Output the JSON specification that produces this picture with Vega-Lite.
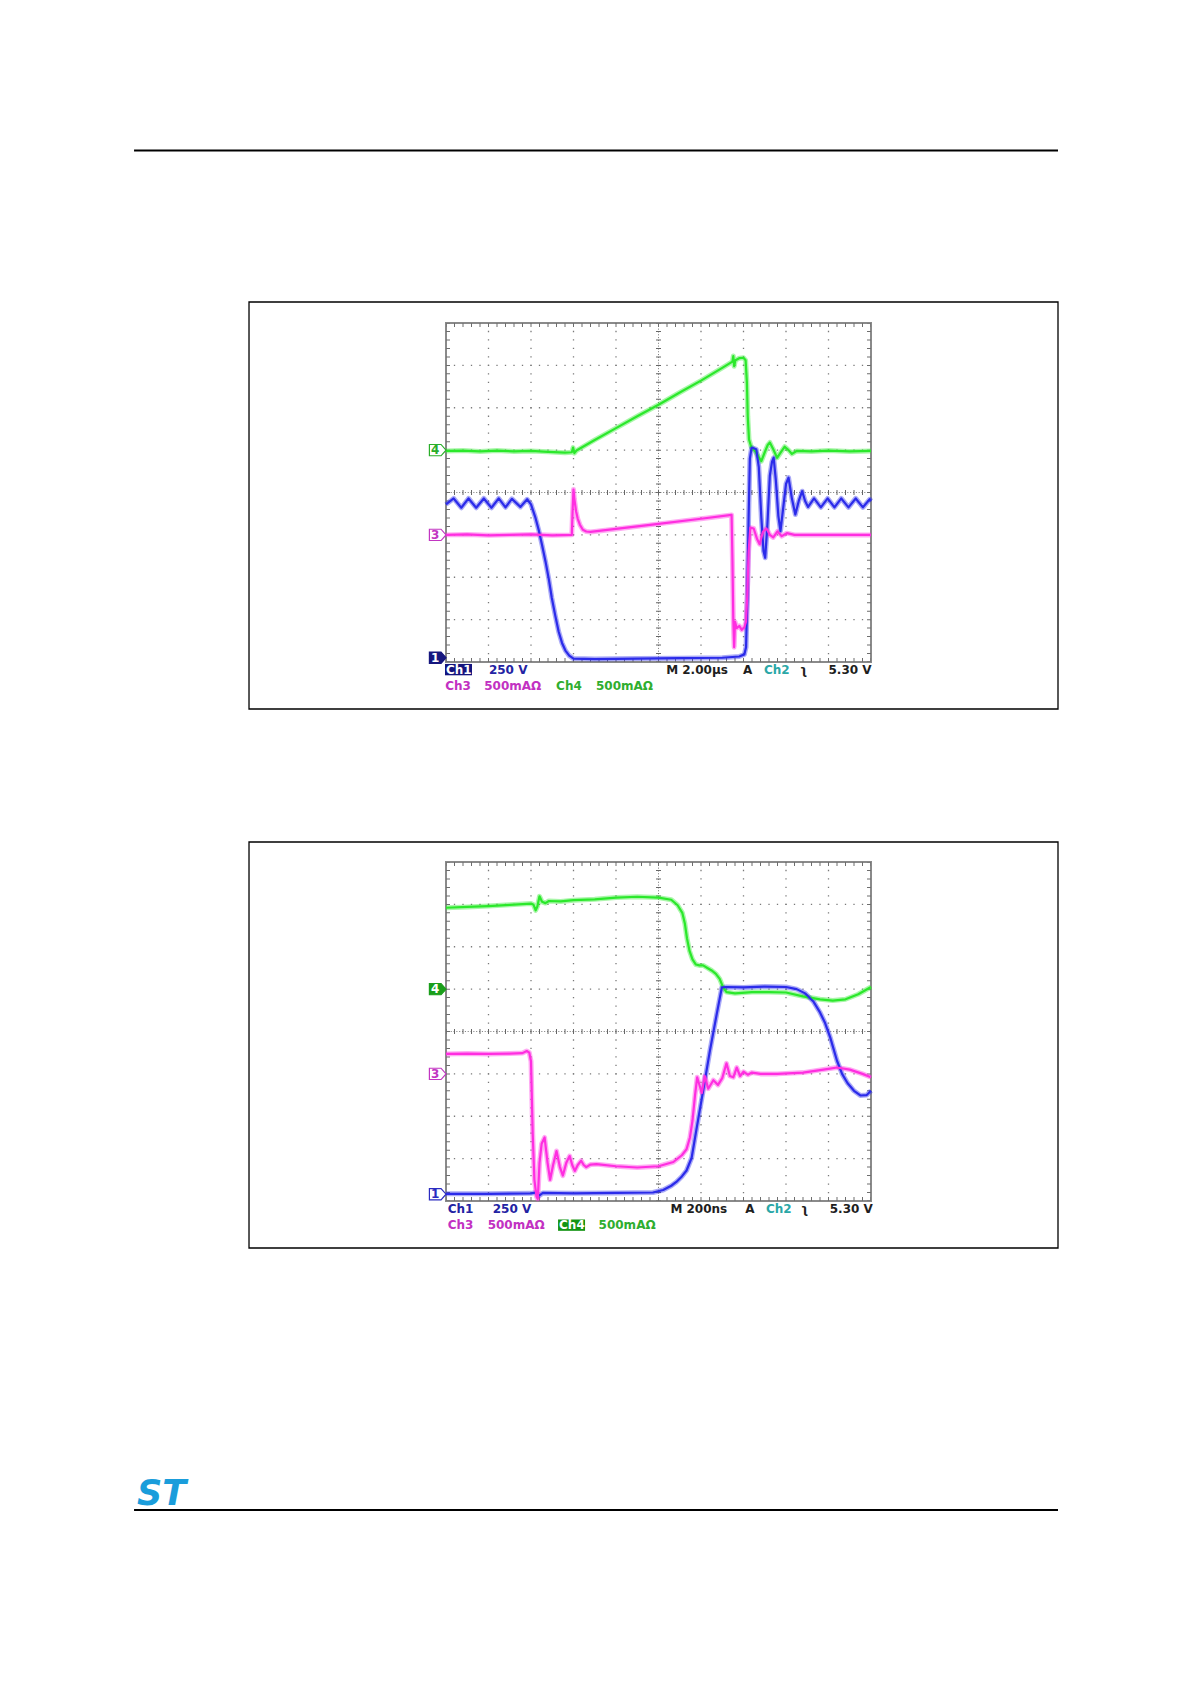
{
  "$schema": "https://vega.github.io/schema/vega-lite/v6.json",
  "padding": {"left": 132, "top": 148, "right": 0, "bottom": 0},
  "autosize": {"type": "pad"},
  "bounds": "flush",
  "spacing": 200,
  "background": "white",
  "config": {"font": "DejaVu Sans", "view": {"stroke": "#8a8a8a", "strokeWidth": 2}},
  "datasets": {
    "gx": [{"g":1},{"g":2},{"g":3},{"g":4},{"g":6},{"g":7},{"g":8},{"g":9}],
    "gy": [{"g":1},{"g":2},{"g":3},{"g":5},{"g":6},{"g":7}],
    "s1": [
      {"ch":"Ch4","t":0,"v":4.98},{"ch":"Ch4","t":0.4,"v":4.99},{"ch":"Ch4","t":0.8,"v":4.97},{"ch":"Ch4","t":1.2,"v":4.99},{"ch":"Ch4","t":1.6,"v":4.97},{"ch":"Ch4","t":2.0,"v":4.98},{"ch":"Ch4","t":2.4,"v":4.96},{"ch":"Ch4","t":2.8,"v":4.94},{"ch":"Ch4","t":2.96,"v":4.95},{"ch":"Ch4","t":2.99,"v":5.06},{"ch":"Ch4","t":3.02,"v":4.93},{"ch":"Ch4","t":3.07,"v":4.99},{"ch":"Ch4","t":3.5,"v":5.24},{"ch":"Ch4","t":4.0,"v":5.52},{"ch":"Ch4","t":4.5,"v":5.8},{"ch":"Ch4","t":5.0,"v":6.07},{"ch":"Ch4","t":5.5,"v":6.36},{"ch":"Ch4","t":6.0,"v":6.64},{"ch":"Ch4","t":6.5,"v":6.94},{"ch":"Ch4","t":6.74,"v":7.09},{"ch":"Ch4","t":6.76,"v":7.22},{"ch":"Ch4","t":6.78,"v":6.98},{"ch":"Ch4","t":6.81,"v":7.12},{"ch":"Ch4","t":6.9,"v":7.17},{"ch":"Ch4","t":7.0,"v":7.18},{"ch":"Ch4","t":7.05,"v":7.12},{"ch":"Ch4","t":7.08,"v":6.6},{"ch":"Ch4","t":7.1,"v":5.8},{"ch":"Ch4","t":7.13,"v":5.25},{"ch":"Ch4","t":7.18,"v":5.08},{"ch":"Ch4","t":7.28,"v":4.97},{"ch":"Ch4","t":7.35,"v":4.85},{"ch":"Ch4","t":7.42,"v":4.74},{"ch":"Ch4","t":7.5,"v":4.95},{"ch":"Ch4","t":7.57,"v":5.12},{"ch":"Ch4","t":7.62,"v":5.18},{"ch":"Ch4","t":7.7,"v":5.02},{"ch":"Ch4","t":7.79,"v":4.82},{"ch":"Ch4","t":7.88,"v":4.95},{"ch":"Ch4","t":7.97,"v":5.08},{"ch":"Ch4","t":8.06,"v":5.0},{"ch":"Ch4","t":8.14,"v":4.91},{"ch":"Ch4","t":8.25,"v":4.98},{"ch":"Ch4","t":8.6,"v":4.97},{"ch":"Ch4","t":9.0,"v":4.99},{"ch":"Ch4","t":9.5,"v":4.97},{"ch":"Ch4","t":10,"v":4.98},
      {"ch":"Ch1","t":0,"v":3.72},{"ch":"Ch1","t":0.18,"v":3.86},{"ch":"Ch1","t":0.36,"v":3.64},{"ch":"Ch1","t":0.53,"v":3.86},{"ch":"Ch1","t":0.71,"v":3.64},{"ch":"Ch1","t":0.89,"v":3.86},{"ch":"Ch1","t":1.07,"v":3.64},{"ch":"Ch1","t":1.24,"v":3.86},{"ch":"Ch1","t":1.4,"v":3.65},{"ch":"Ch1","t":1.55,"v":3.85},{"ch":"Ch1","t":1.75,"v":3.66},{"ch":"Ch1","t":1.91,"v":3.84},{"ch":"Ch1","t":2.0,"v":3.72},{"ch":"Ch1","t":2.1,"v":3.42},{"ch":"Ch1","t":2.18,"v":3.12},{"ch":"Ch1","t":2.26,"v":2.76},{"ch":"Ch1","t":2.34,"v":2.38},{"ch":"Ch1","t":2.42,"v":1.95},{"ch":"Ch1","t":2.49,"v":1.51},{"ch":"Ch1","t":2.57,"v":1.1},{"ch":"Ch1","t":2.65,"v":0.72},{"ch":"Ch1","t":2.73,"v":0.45},{"ch":"Ch1","t":2.81,"v":0.27},{"ch":"Ch1","t":2.9,"v":0.15},{"ch":"Ch1","t":3.0,"v":0.08},{"ch":"Ch1","t":3.5,"v":0.07},{"ch":"Ch1","t":4.5,"v":0.08},{"ch":"Ch1","t":5.5,"v":0.09},{"ch":"Ch1","t":6.5,"v":0.1},{"ch":"Ch1","t":6.9,"v":0.13},{"ch":"Ch1","t":7.02,"v":0.18},{"ch":"Ch1","t":7.06,"v":0.35},{"ch":"Ch1","t":7.09,"v":1.5},{"ch":"Ch1","t":7.12,"v":3.4},{"ch":"Ch1","t":7.15,"v":4.8},{"ch":"Ch1","t":7.19,"v":5.06},{"ch":"Ch1","t":7.3,"v":5.02},{"ch":"Ch1","t":7.36,"v":4.6},{"ch":"Ch1","t":7.42,"v":3.4},{"ch":"Ch1","t":7.47,"v":2.62},{"ch":"Ch1","t":7.51,"v":2.46},{"ch":"Ch1","t":7.56,"v":3.2},{"ch":"Ch1","t":7.62,"v":4.4},{"ch":"Ch1","t":7.67,"v":4.72},{"ch":"Ch1","t":7.71,"v":4.82},{"ch":"Ch1","t":7.76,"v":4.3},{"ch":"Ch1","t":7.82,"v":3.45},{"ch":"Ch1","t":7.87,"v":3.09},{"ch":"Ch1","t":7.93,"v":3.6},{"ch":"Ch1","t":8.0,"v":4.2},{"ch":"Ch1","t":8.06,"v":4.35},{"ch":"Ch1","t":8.14,"v":3.85},{"ch":"Ch1","t":8.22,"v":3.48},{"ch":"Ch1","t":8.3,"v":3.8},{"ch":"Ch1","t":8.38,"v":4.03},{"ch":"Ch1","t":8.45,"v":3.8},{"ch":"Ch1","t":8.52,"v":3.66},{"ch":"Ch1","t":8.66,"v":3.86},{"ch":"Ch1","t":8.82,"v":3.65},{"ch":"Ch1","t":8.98,"v":3.86},{"ch":"Ch1","t":9.14,"v":3.65},{"ch":"Ch1","t":9.3,"v":3.86},{"ch":"Ch1","t":9.47,"v":3.65},{"ch":"Ch1","t":9.64,"v":3.86},{"ch":"Ch1","t":9.81,"v":3.65},{"ch":"Ch1","t":9.97,"v":3.84},{"ch":"Ch1","t":10,"v":3.8},
      {"ch":"Ch3","t":0,"v":3.0},{"ch":"Ch3","t":0.5,"v":3.01},{"ch":"Ch3","t":1,"v":2.99},{"ch":"Ch3","t":1.5,"v":3.0},{"ch":"Ch3","t":2,"v":3.01},{"ch":"Ch3","t":2.5,"v":2.99},{"ch":"Ch3","t":2.96,"v":3.0},{"ch":"Ch3","t":2.98,"v":3.6},{"ch":"Ch3","t":3.0,"v":4.07},{"ch":"Ch3","t":3.02,"v":3.85},{"ch":"Ch3","t":3.06,"v":3.56},{"ch":"Ch3","t":3.1,"v":3.38},{"ch":"Ch3","t":3.15,"v":3.24},{"ch":"Ch3","t":3.22,"v":3.12},{"ch":"Ch3","t":3.3,"v":3.08},{"ch":"Ch3","t":3.4,"v":3.07},{"ch":"Ch3","t":4.0,"v":3.14},{"ch":"Ch3","t":5.0,"v":3.26},{"ch":"Ch3","t":6.0,"v":3.38},{"ch":"Ch3","t":6.72,"v":3.47},{"ch":"Ch3","t":6.74,"v":2.4},{"ch":"Ch3","t":6.76,"v":1.0},{"ch":"Ch3","t":6.78,"v":0.35},{"ch":"Ch3","t":6.8,"v":0.95},{"ch":"Ch3","t":6.84,"v":0.8},{"ch":"Ch3","t":6.9,"v":0.85},{"ch":"Ch3","t":6.96,"v":0.76},{"ch":"Ch3","t":7.02,"v":0.82},{"ch":"Ch3","t":7.06,"v":0.95},{"ch":"Ch3","t":7.09,"v":1.6},{"ch":"Ch3","t":7.12,"v":2.6},{"ch":"Ch3","t":7.16,"v":3.17},{"ch":"Ch3","t":7.24,"v":3.15},{"ch":"Ch3","t":7.32,"v":2.9},{"ch":"Ch3","t":7.38,"v":2.78},{"ch":"Ch3","t":7.46,"v":3.08},{"ch":"Ch3","t":7.54,"v":3.15},{"ch":"Ch3","t":7.62,"v":3.0},{"ch":"Ch3","t":7.7,"v":2.94},{"ch":"Ch3","t":7.8,"v":3.08},{"ch":"Ch3","t":7.9,"v":2.97},{"ch":"Ch3","t":8.02,"v":3.04},{"ch":"Ch3","t":8.2,"v":3.0},{"ch":"Ch3","t":9,"v":3.0},{"ch":"Ch3","t":10,"v":3.0}
    ],
    "s2": [
      {"ch":"Ch4","t":0,"v":6.92},{"ch":"Ch4","t":0.5,"v":6.94},{"ch":"Ch4","t":1.0,"v":6.96},{"ch":"Ch4","t":1.5,"v":6.99},{"ch":"Ch4","t":2.0,"v":7.02},{"ch":"Ch4","t":2.06,"v":6.99},{"ch":"Ch4","t":2.11,"v":6.86},{"ch":"Ch4","t":2.15,"v":6.95},{"ch":"Ch4","t":2.2,"v":7.19},{"ch":"Ch4","t":2.26,"v":7.06},{"ch":"Ch4","t":2.34,"v":7.03},{"ch":"Ch4","t":2.42,"v":7.08},{"ch":"Ch4","t":2.7,"v":7.07},{"ch":"Ch4","t":3.0,"v":7.1},{"ch":"Ch4","t":3.5,"v":7.12},{"ch":"Ch4","t":4.0,"v":7.16},{"ch":"Ch4","t":4.5,"v":7.18},{"ch":"Ch4","t":5.0,"v":7.16},{"ch":"Ch4","t":5.3,"v":7.11},{"ch":"Ch4","t":5.45,"v":6.98},{"ch":"Ch4","t":5.56,"v":6.8},{"ch":"Ch4","t":5.62,"v":6.55},{"ch":"Ch4","t":5.67,"v":6.2},{"ch":"Ch4","t":5.73,"v":5.9},{"ch":"Ch4","t":5.8,"v":5.7},{"ch":"Ch4","t":5.88,"v":5.58},{"ch":"Ch4","t":5.96,"v":5.56},{"ch":"Ch4","t":6.05,"v":5.56},{"ch":"Ch4","t":6.15,"v":5.5},{"ch":"Ch4","t":6.25,"v":5.44},{"ch":"Ch4","t":6.35,"v":5.36},{"ch":"Ch4","t":6.44,"v":5.24},{"ch":"Ch4","t":6.52,"v":5.04},{"ch":"Ch4","t":6.6,"v":4.93},{"ch":"Ch4","t":6.8,"v":4.9},{"ch":"Ch4","t":7.2,"v":4.93},{"ch":"Ch4","t":7.6,"v":4.93},{"ch":"Ch4","t":8.0,"v":4.92},{"ch":"Ch4","t":8.4,"v":4.83},{"ch":"Ch4","t":8.8,"v":4.76},{"ch":"Ch4","t":9.1,"v":4.73},{"ch":"Ch4","t":9.4,"v":4.76},{"ch":"Ch4","t":9.7,"v":4.88},{"ch":"Ch4","t":10,"v":5.05},
      {"ch":"Ch1","t":0,"v":0.17},{"ch":"Ch1","t":1,"v":0.17},{"ch":"Ch1","t":2.0,"v":0.18},{"ch":"Ch1","t":2.12,"v":0.2},{"ch":"Ch1","t":2.2,"v":0.13},{"ch":"Ch1","t":2.28,"v":0.19},{"ch":"Ch1","t":3,"v":0.18},{"ch":"Ch1","t":4,"v":0.19},{"ch":"Ch1","t":4.87,"v":0.2},{"ch":"Ch1","t":5.11,"v":0.26},{"ch":"Ch1","t":5.3,"v":0.36},{"ch":"Ch1","t":5.42,"v":0.45},{"ch":"Ch1","t":5.55,"v":0.58},{"ch":"Ch1","t":5.66,"v":0.72},{"ch":"Ch1","t":5.78,"v":1.02},{"ch":"Ch1","t":5.9,"v":1.73},{"ch":"Ch1","t":6.05,"v":2.6},{"ch":"Ch1","t":6.21,"v":3.55},{"ch":"Ch1","t":6.37,"v":4.41},{"ch":"Ch1","t":6.49,"v":5.04},{"ch":"Ch1","t":6.6,"v":5.05},{"ch":"Ch1","t":7.0,"v":5.04},{"ch":"Ch1","t":7.5,"v":5.06},{"ch":"Ch1","t":8.0,"v":5.05},{"ch":"Ch1","t":8.25,"v":5.0},{"ch":"Ch1","t":8.45,"v":4.9},{"ch":"Ch1","t":8.65,"v":4.7},{"ch":"Ch1","t":8.8,"v":4.45},{"ch":"Ch1","t":8.92,"v":4.2},{"ch":"Ch1","t":9.04,"v":3.86},{"ch":"Ch1","t":9.2,"v":3.31},{"ch":"Ch1","t":9.32,"v":3.0},{"ch":"Ch1","t":9.45,"v":2.78},{"ch":"Ch1","t":9.6,"v":2.6},{"ch":"Ch1","t":9.75,"v":2.49},{"ch":"Ch1","t":9.9,"v":2.5},{"ch":"Ch1","t":10,"v":2.6},
      {"ch":"Ch3","t":0,"v":3.47},{"ch":"Ch3","t":0.5,"v":3.48},{"ch":"Ch3","t":1,"v":3.47},{"ch":"Ch3","t":1.5,"v":3.48},{"ch":"Ch3","t":1.8,"v":3.49},{"ch":"Ch3","t":1.9,"v":3.54},{"ch":"Ch3","t":1.96,"v":3.5},{"ch":"Ch3","t":2.0,"v":3.3},{"ch":"Ch3","t":2.04,"v":1.6},{"ch":"Ch3","t":2.08,"v":0.5},{"ch":"Ch3","t":2.13,"v":0.1},{"ch":"Ch3","t":2.16,"v":0.05},{"ch":"Ch3","t":2.2,"v":0.9},{"ch":"Ch3","t":2.25,"v":1.35},{"ch":"Ch3","t":2.32,"v":1.5},{"ch":"Ch3","t":2.39,"v":0.9},{"ch":"Ch3","t":2.45,"v":0.5},{"ch":"Ch3","t":2.52,"v":0.85},{"ch":"Ch3","t":2.6,"v":1.18},{"ch":"Ch3","t":2.68,"v":0.8},{"ch":"Ch3","t":2.75,"v":0.6},{"ch":"Ch3","t":2.83,"v":0.9},{"ch":"Ch3","t":2.91,"v":1.06},{"ch":"Ch3","t":2.97,"v":0.85},{"ch":"Ch3","t":3.03,"v":0.71},{"ch":"Ch3","t":3.1,"v":0.85},{"ch":"Ch3","t":3.18,"v":0.95},{"ch":"Ch3","t":3.24,"v":0.85},{"ch":"Ch3","t":3.3,"v":0.8},{"ch":"Ch3","t":3.4,"v":0.86},{"ch":"Ch3","t":3.54,"v":0.87},{"ch":"Ch3","t":4.0,"v":0.82},{"ch":"Ch3","t":4.5,"v":0.79},{"ch":"Ch3","t":5.0,"v":0.82},{"ch":"Ch3","t":5.35,"v":0.92},{"ch":"Ch3","t":5.55,"v":1.08},{"ch":"Ch3","t":5.66,"v":1.22},{"ch":"Ch3","t":5.74,"v":1.5},{"ch":"Ch3","t":5.8,"v":1.9},{"ch":"Ch3","t":5.86,"v":2.5},{"ch":"Ch3","t":5.91,"v":2.92},{"ch":"Ch3","t":5.96,"v":2.75},{"ch":"Ch3","t":6.02,"v":2.55},{"ch":"Ch3","t":6.09,"v":2.95},{"ch":"Ch3","t":6.17,"v":2.65},{"ch":"Ch3","t":6.29,"v":2.85},{"ch":"Ch3","t":6.4,"v":2.74},{"ch":"Ch3","t":6.5,"v":2.9},{"ch":"Ch3","t":6.6,"v":3.25},{"ch":"Ch3","t":6.68,"v":2.95},{"ch":"Ch3","t":6.76,"v":2.92},{"ch":"Ch3","t":6.84,"v":3.15},{"ch":"Ch3","t":6.92,"v":2.95},{"ch":"Ch3","t":7.0,"v":3.05},{"ch":"Ch3","t":7.1,"v":2.98},{"ch":"Ch3","t":7.2,"v":3.03},{"ch":"Ch3","t":7.4,"v":3.0},{"ch":"Ch3","t":7.8,"v":3.0},{"ch":"Ch3","t":8.4,"v":3.03},{"ch":"Ch3","t":9.0,"v":3.12},{"ch":"Ch3","t":9.2,"v":3.15},{"ch":"Ch3","t":9.5,"v":3.1},{"ch":"Ch3","t":9.8,"v":3.0},{"ch":"Ch3","t":10,"v":2.92}
    ],
    "mk1": [{"ch":"Ch4","n":"4","v":5.0},{"ch":"Ch3","n":"3","v":3.0},{"ch":"Ch1","n":"1","v":0.1,"active":true}],
    "mk2": [{"ch":"Ch4","n":"4","v":5.0,"active":true},{"ch":"Ch3","n":"3","v":3.0},{"ch":"Ch1","n":"1","v":0.16}],
    "lab1": [
      {"label":"Ch1","ch":"Ch1","t":0.0,"v":-0.18,"active":true},
      {"label":"250 V","ch":"Ch1","t":1.01,"v":-0.18},
      {"label":"M 2.00µs","ch":"M","t":5.18,"v":-0.18},
      {"label":"A","ch":"M","t":6.99,"v":-0.18},
      {"label":"Ch2","ch":"Ch2","t":7.48,"v":-0.18},
      {"label":"ʅ","ch":"M","t":8.33,"v":-0.18},
      {"label":"5.30 V","ch":"M","t":9.0,"v":-0.18},
      {"label":"Ch3","ch":"Ch3","t":-0.02,"v":-0.57},
      {"label":"500mAΩ","ch":"Ch3","t":0.9,"v":-0.57},
      {"label":"Ch4","ch":"Ch4","t":2.59,"v":-0.57},
      {"label":"500mAΩ","ch":"Ch4","t":3.53,"v":-0.57}
    ],
    "lab2": [
      {"label":"Ch1","ch":"Ch1","t":0.04,"v":-0.2},
      {"label":"250 V","ch":"Ch1","t":1.1,"v":-0.2},
      {"label":"M 200ns","ch":"M","t":5.28,"v":-0.2},
      {"label":"A","ch":"M","t":7.04,"v":-0.2},
      {"label":"Ch2","ch":"Ch2","t":7.53,"v":-0.2},
      {"label":"ʅ","ch":"M","t":8.35,"v":-0.2},
      {"label":"5.30 V","ch":"M","t":9.03,"v":-0.2},
      {"label":"Ch3","ch":"Ch3","t":0.04,"v":-0.57},
      {"label":"500mAΩ","ch":"Ch3","t":0.98,"v":-0.57},
      {"label":"Ch4","ch":"Ch4","t":2.66,"v":-0.57,"active":true},
      {"label":"500mAΩ","ch":"Ch4","t":3.59,"v":-0.57}
    ]
  },
  "vconcat": [
    {
      "width": 425, "height": 339,
      "resolve": {"scale": {"fill": "independent", "stroke": "independent"}},
      "layer": [
        {"data": {"values": [{}]}, "mark": {"type": "rect", "filled": false, "stroke": "#000000", "strokeWidth": 1.3},
         "encoding": {"x": {"datum": -4.635, "type": "quantitative", "scale": {"domain": [0, 10], "nice": false, "zero": false}, "axis": null}, "x2": {"datum": 14.4},
                      "y": {"datum": -1.109, "type": "quantitative", "scale": {"domain": [0, 8], "nice": false, "zero": false}, "axis": null}, "y2": {"datum": 8.496}}},
        {"data": {"values": [{}]}, "mark": {"type": "rule", "stroke": "#000000", "strokeWidth": 2},
         "encoding": {"x": {"datum": -7.34, "type": "quantitative", "scale": {"domain": [0, 10], "nice": false, "zero": false}, "axis": null}, "x2": {"datum": 14.4},
                      "y": {"datum": 12.071, "type": "quantitative", "scale": {"domain": [0, 8], "nice": false, "zero": false}, "axis": null}}},
        {"data": {"name": "gx"}, "mark": {"type": "rule", "stroke": "#7a7a7a", "strokeWidth": 1.3, "strokeDash": [1.3, 7.175], "strokeDashOffset": 0.65},
         "encoding": {"x": {"field": "g", "type": "quantitative", "scale": {"domain": [0, 10], "nice": false, "zero": false}, "axis": null}}},
        {"data": {"name": "gy"}, "mark": {"type": "rule", "stroke": "#7a7a7a", "strokeWidth": 1.3, "strokeDash": [1.3, 7.2], "strokeDashOffset": 0.65},
         "encoding": {"y": {"field": "g", "type": "quantitative", "scale": {"domain": [0, 8], "nice": false, "zero": false}, "axis": null}}},
        {"data": {"values": [{}]}, "mark": {"type": "rule", "stroke": "#777777", "strokeWidth": 1, "strokeDash": [1, 1.825]},
         "encoding": {"x": {"datum": 5, "type": "quantitative", "scale": {"domain": [0, 10], "nice": false, "zero": false}, "axis": null}}},
        {"data": {"values": [{}]}, "mark": {"type": "rule", "stroke": "#666666", "strokeWidth": 5, "strokeDash": [1, 7.475], "strokeDashOffset": 0.5},
         "encoding": {"x": {"datum": 5, "type": "quantitative", "scale": {"domain": [0, 10], "nice": false, "zero": false}, "axis": null}}},
        {"data": {"values": [{}]}, "mark": {"type": "rule", "stroke": "#777777", "strokeWidth": 1, "strokeDash": [1, 1.833]},
         "encoding": {"y": {"datum": 4, "type": "quantitative", "scale": {"domain": [0, 8], "nice": false, "zero": false}, "axis": null}}},
        {"data": {"values": [{}]}, "mark": {"type": "rule", "stroke": "#666666", "strokeWidth": 5, "strokeDash": [1, 7.5], "strokeDashOffset": 0.5},
         "encoding": {"y": {"datum": 4, "type": "quantitative", "scale": {"domain": [0, 8], "nice": false, "zero": false}, "axis": null}}},
        {"data": {"values": [{}]}, "mark": {"type": "rule", "stroke": "#6e6e6e", "strokeWidth": 4, "strokeDash": [1, 7.475], "strokeDashOffset": 0.5},
         "encoding": {"x": {"datum": 0.047, "type": "quantitative", "scale": {"domain": [0, 10], "nice": false, "zero": false}, "axis": null}}},
        {"data": {"values": [{}]}, "mark": {"type": "rule", "stroke": "#6e6e6e", "strokeWidth": 4, "strokeDash": [1, 7.475], "strokeDashOffset": 0.5},
         "encoding": {"x": {"datum": 9.953, "type": "quantitative", "scale": {"domain": [0, 10], "nice": false, "zero": false}, "axis": null}}},
        {"data": {"values": [{}]}, "mark": {"type": "rule", "stroke": "#6e6e6e", "strokeWidth": 4, "strokeDash": [1, 7.5], "strokeDashOffset": 0.5},
         "encoding": {"y": {"datum": 0.047, "type": "quantitative", "scale": {"domain": [0, 8], "nice": false, "zero": false}, "axis": null}}},
        {"data": {"values": [{}]}, "mark": {"type": "rule", "stroke": "#6e6e6e", "strokeWidth": 4, "strokeDash": [1, 7.5], "strokeDashOffset": 0.5},
         "encoding": {"y": {"datum": 7.953, "type": "quantitative", "scale": {"domain": [0, 8], "nice": false, "zero": false}, "axis": null}}},
        {"data": {"name": "s1"}, "mark": {"type": "line", "strokeWidth": 5, "opacity": 0.4, "strokeJoin": "round"},
         "encoding": {
           "x": {"field": "t", "type": "quantitative", "scale": {"domain": [0, 10], "nice": false, "zero": false}, "axis": null},
           "y": {"field": "v", "type": "quantitative", "scale": {"domain": [0, 8], "nice": false, "zero": false}, "axis": null},
           "stroke": {"field": "ch", "type": "nominal", "scale": {"domain": ["Ch1", "Ch3", "Ch4"], "range": ["#2b2bea", "#ff2ee0", "#2be82b"]}, "legend": null}}},
        {"data": {"name": "s1"}, "mark": {"type": "line", "strokeWidth": 2.2, "strokeJoin": "round"},
         "encoding": {
           "x": {"field": "t", "type": "quantitative", "scale": {"domain": [0, 10], "nice": false, "zero": false}, "axis": null},
           "y": {"field": "v", "type": "quantitative", "scale": {"domain": [0, 8], "nice": false, "zero": false}, "axis": null},
           "stroke": {"field": "ch", "type": "nominal", "scale": {"domain": ["Ch1", "Ch3", "Ch4"], "range": ["#2b2bea", "#ff2ee0", "#2be82b"]}, "legend": null}}},
        {"data": {"name": "mk1"}, "mark": {"type": "point", "shape": "M-1,-0.68L0.4,-0.68L1,0L0.4,0.68L-1,0.68Z", "size": 276, "filled": true, "strokeWidth": 1.2, "opacity": 1},
         "encoding": {
           "x": {"datum": -0.195, "type": "quantitative", "scale": {"domain": [0, 10], "nice": false, "zero": false}, "axis": null},
           "y": {"field": "v", "type": "quantitative", "scale": {"domain": [0, 8], "nice": false, "zero": false}, "axis": null},
           "fill": {"condition": {"test": "datum.active", "field": "ch", "type": "nominal", "scale": {"domain": ["Ch1", "Ch3", "Ch4"], "range": ["#16167e", "#c236c2", "#1a9e1a"]}, "legend": null}, "value": "white"},
           "stroke": {"field": "ch", "type": "nominal", "scale": {"domain": ["Ch1", "Ch3", "Ch4"], "range": ["#16167e", "#c236c2", "#2aae2a"]}, "legend": null}}},
        {"data": {"name": "mk1"}, "mark": {"type": "text", "fontSize": 12, "fontWeight": "bold", "align": "center", "baseline": "middle"},
         "encoding": {
           "x": {"datum": -0.254, "type": "quantitative", "scale": {"domain": [0, 10], "nice": false, "zero": false}, "axis": null},
           "y": {"field": "v", "type": "quantitative", "scale": {"domain": [0, 8], "nice": false, "zero": false}, "axis": null},
           "text": {"field": "n"},
           "fill": {"condition": {"test": "datum.active", "value": "white"}, "field": "ch", "type": "nominal", "scale": {"domain": ["Ch1", "Ch3", "Ch4"], "range": ["#16167e", "#c236c2", "#2aae2a"]}, "legend": null}}},
        {"data": {"name": "lab1"}, "transform": [{"filter": "datum.active"}],
         "mark": {"type": "point", "shape": "M-1,-0.42L1,-0.42L1,0.42L-1,0.42Z", "size": 729, "filled": true, "strokeWidth": 0, "opacity": 1, "xOffset": 12.5},
         "encoding": {
           "x": {"field": "t", "type": "quantitative", "scale": {"domain": [0, 10], "nice": false, "zero": false}, "axis": null},
           "y": {"field": "v", "type": "quantitative", "scale": {"domain": [0, 8], "nice": false, "zero": false}, "axis": null},
           "fill": {"field": "ch", "type": "nominal", "scale": {"domain": ["Ch1", "Ch4"], "range": ["#14147e", "#139413"]}, "legend": null}}},
        {"data": {"name": "lab1"}, "mark": {"type": "text", "align": "left", "baseline": "middle", "fontSize": 12, "fontWeight": "bold"},
         "encoding": {
           "x": {"field": "t", "type": "quantitative", "scale": {"domain": [0, 10], "nice": false, "zero": false}, "axis": null},
           "y": {"field": "v", "type": "quantitative", "scale": {"domain": [0, 8], "nice": false, "zero": false}, "axis": null},
           "text": {"field": "label"},
           "fill": {"condition": {"test": "datum.active", "value": "white"}, "field": "ch", "type": "nominal", "scale": {"domain": ["Ch1", "Ch2", "Ch3", "Ch4", "M"], "range": ["#2323a3", "#2aa7a7", "#c231c2", "#2fae2f", "#1e1e1e"]}, "legend": null}}}
      ]
    },
    {
      "width": 425, "height": 339,
      "resolve": {"scale": {"fill": "independent", "stroke": "independent"}},
      "layer": [
        {"data": {"values": [{}]}, "mark": {"type": "rect", "filled": false, "stroke": "#000000", "strokeWidth": 1.3},
         "encoding": {"x": {"datum": -4.635, "type": "quantitative", "scale": {"domain": [0, 10], "nice": false, "zero": false}, "axis": null}, "x2": {"datum": 14.4},
                      "y": {"datum": -1.109, "type": "quantitative", "scale": {"domain": [0, 8], "nice": false, "zero": false}, "axis": null}, "y2": {"datum": 8.472}}},
        {"data": {"values": [{}]}, "mark": {"type": "rule", "stroke": "#000000", "strokeWidth": 2},
         "encoding": {"x": {"datum": -7.34, "type": "quantitative", "scale": {"domain": [0, 10], "nice": false, "zero": false}, "axis": null}, "x2": {"datum": 14.4},
                      "y": {"datum": -7.292, "type": "quantitative", "scale": {"domain": [0, 8], "nice": false, "zero": false}, "axis": null}}},
        {"data": {"values": [{}]}, "mark": {"type": "text", "text": "ST", "fontSize": 35, "fontWeight": "bold", "fontStyle": "italic", "fill": "#1a9ddb", "align": "left", "baseline": "alphabetic"},
         "encoding": {"x": {"datum": -7.27, "type": "quantitative", "scale": {"domain": [0, 10], "nice": false, "zero": false}, "axis": null},
                      "y": {"datum": -7.174, "type": "quantitative", "scale": {"domain": [0, 8], "nice": false, "zero": false}, "axis": null}}},
        {"data": {"name": "gx"}, "mark": {"type": "rule", "stroke": "#7a7a7a", "strokeWidth": 1.3, "strokeDash": [1.3, 7.175], "strokeDashOffset": 0.65},
         "encoding": {"x": {"field": "g", "type": "quantitative", "scale": {"domain": [0, 10], "nice": false, "zero": false}, "axis": null}}},
        {"data": {"name": "gy"}, "mark": {"type": "rule", "stroke": "#7a7a7a", "strokeWidth": 1.3, "strokeDash": [1.3, 7.2], "strokeDashOffset": 0.65},
         "encoding": {"y": {"field": "g", "type": "quantitative", "scale": {"domain": [0, 8], "nice": false, "zero": false}, "axis": null}}},
        {"data": {"values": [{}]}, "mark": {"type": "rule", "stroke": "#777777", "strokeWidth": 1, "strokeDash": [1, 1.825]},
         "encoding": {"x": {"datum": 5, "type": "quantitative", "scale": {"domain": [0, 10], "nice": false, "zero": false}, "axis": null}}},
        {"data": {"values": [{}]}, "mark": {"type": "rule", "stroke": "#666666", "strokeWidth": 5, "strokeDash": [1, 7.475], "strokeDashOffset": 0.5},
         "encoding": {"x": {"datum": 5, "type": "quantitative", "scale": {"domain": [0, 10], "nice": false, "zero": false}, "axis": null}}},
        {"data": {"values": [{}]}, "mark": {"type": "rule", "stroke": "#777777", "strokeWidth": 1, "strokeDash": [1, 1.833]},
         "encoding": {"y": {"datum": 4, "type": "quantitative", "scale": {"domain": [0, 8], "nice": false, "zero": false}, "axis": null}}},
        {"data": {"values": [{}]}, "mark": {"type": "rule", "stroke": "#666666", "strokeWidth": 5, "strokeDash": [1, 7.5], "strokeDashOffset": 0.5},
         "encoding": {"y": {"datum": 4, "type": "quantitative", "scale": {"domain": [0, 8], "nice": false, "zero": false}, "axis": null}}},
        {"data": {"values": [{}]}, "mark": {"type": "rule", "stroke": "#6e6e6e", "strokeWidth": 4, "strokeDash": [1, 7.475], "strokeDashOffset": 0.5},
         "encoding": {"x": {"datum": 0.047, "type": "quantitative", "scale": {"domain": [0, 10], "nice": false, "zero": false}, "axis": null}}},
        {"data": {"values": [{}]}, "mark": {"type": "rule", "stroke": "#6e6e6e", "strokeWidth": 4, "strokeDash": [1, 7.475], "strokeDashOffset": 0.5},
         "encoding": {"x": {"datum": 9.953, "type": "quantitative", "scale": {"domain": [0, 10], "nice": false, "zero": false}, "axis": null}}},
        {"data": {"values": [{}]}, "mark": {"type": "rule", "stroke": "#6e6e6e", "strokeWidth": 4, "strokeDash": [1, 7.5], "strokeDashOffset": 0.5},
         "encoding": {"y": {"datum": 0.047, "type": "quantitative", "scale": {"domain": [0, 8], "nice": false, "zero": false}, "axis": null}}},
        {"data": {"values": [{}]}, "mark": {"type": "rule", "stroke": "#6e6e6e", "strokeWidth": 4, "strokeDash": [1, 7.5], "strokeDashOffset": 0.5},
         "encoding": {"y": {"datum": 7.953, "type": "quantitative", "scale": {"domain": [0, 8], "nice": false, "zero": false}, "axis": null}}},
        {"data": {"name": "s2"}, "mark": {"type": "line", "strokeWidth": 5, "opacity": 0.4, "strokeJoin": "round"},
         "encoding": {
           "x": {"field": "t", "type": "quantitative", "scale": {"domain": [0, 10], "nice": false, "zero": false}, "axis": null},
           "y": {"field": "v", "type": "quantitative", "scale": {"domain": [0, 8], "nice": false, "zero": false}, "axis": null},
           "stroke": {"field": "ch", "type": "nominal", "scale": {"domain": ["Ch1", "Ch3", "Ch4"], "range": ["#2b2bea", "#ff2ee0", "#2be82b"]}, "legend": null}}},
        {"data": {"name": "s2"}, "mark": {"type": "line", "strokeWidth": 2.2, "strokeJoin": "round"},
         "encoding": {
           "x": {"field": "t", "type": "quantitative", "scale": {"domain": [0, 10], "nice": false, "zero": false}, "axis": null},
           "y": {"field": "v", "type": "quantitative", "scale": {"domain": [0, 8], "nice": false, "zero": false}, "axis": null},
           "stroke": {"field": "ch", "type": "nominal", "scale": {"domain": ["Ch1", "Ch3", "Ch4"], "range": ["#2b2bea", "#ff2ee0", "#2be82b"]}, "legend": null}}},
        {"data": {"name": "mk2"}, "mark": {"type": "point", "shape": "M-1,-0.68L0.4,-0.68L1,0L0.4,0.68L-1,0.68Z", "size": 276, "filled": true, "strokeWidth": 1.2, "opacity": 1},
         "encoding": {
           "x": {"datum": -0.195, "type": "quantitative", "scale": {"domain": [0, 10], "nice": false, "zero": false}, "axis": null},
           "y": {"field": "v", "type": "quantitative", "scale": {"domain": [0, 8], "nice": false, "zero": false}, "axis": null},
           "fill": {"condition": {"test": "datum.active", "field": "ch", "type": "nominal", "scale": {"domain": ["Ch1", "Ch3", "Ch4"], "range": ["#16167e", "#c236c2", "#1a9e1a"]}, "legend": null}, "value": "white"},
           "stroke": {"field": "ch", "type": "nominal", "scale": {"domain": ["Ch1", "Ch3", "Ch4"], "range": ["#2b2bc0", "#c236c2", "#1a9e1a"]}, "legend": null}}},
        {"data": {"name": "mk2"}, "mark": {"type": "text", "fontSize": 12, "fontWeight": "bold", "align": "center", "baseline": "middle"},
         "encoding": {
           "x": {"datum": -0.254, "type": "quantitative", "scale": {"domain": [0, 10], "nice": false, "zero": false}, "axis": null},
           "y": {"field": "v", "type": "quantitative", "scale": {"domain": [0, 8], "nice": false, "zero": false}, "axis": null},
           "text": {"field": "n"},
           "fill": {"condition": {"test": "datum.active", "value": "white"}, "field": "ch", "type": "nominal", "scale": {"domain": ["Ch1", "Ch3", "Ch4"], "range": ["#2b2bc0", "#c236c2", "#1a9e1a"]}, "legend": null}}},
        {"data": {"name": "lab2"}, "transform": [{"filter": "datum.active"}],
         "mark": {"type": "point", "shape": "M-1,-0.42L1,-0.42L1,0.42L-1,0.42Z", "size": 729, "filled": true, "strokeWidth": 0, "opacity": 1, "xOffset": 12.5},
         "encoding": {
           "x": {"field": "t", "type": "quantitative", "scale": {"domain": [0, 10], "nice": false, "zero": false}, "axis": null},
           "y": {"field": "v", "type": "quantitative", "scale": {"domain": [0, 8], "nice": false, "zero": false}, "axis": null},
           "fill": {"field": "ch", "type": "nominal", "scale": {"domain": ["Ch1", "Ch4"], "range": ["#14147e", "#139413"]}, "legend": null}}},
        {"data": {"name": "lab2"}, "mark": {"type": "text", "align": "left", "baseline": "middle", "fontSize": 12, "fontWeight": "bold"},
         "encoding": {
           "x": {"field": "t", "type": "quantitative", "scale": {"domain": [0, 10], "nice": false, "zero": false}, "axis": null},
           "y": {"field": "v", "type": "quantitative", "scale": {"domain": [0, 8], "nice": false, "zero": false}, "axis": null},
           "text": {"field": "label"},
           "fill": {"condition": {"test": "datum.active", "value": "white"}, "field": "ch", "type": "nominal", "scale": {"domain": ["Ch1", "Ch2", "Ch3", "Ch4", "M"], "range": ["#2323a3", "#2aa7a7", "#c231c2", "#2fae2f", "#1e1e1e"]}, "legend": null}}}
      ]
    }
  ]
}
